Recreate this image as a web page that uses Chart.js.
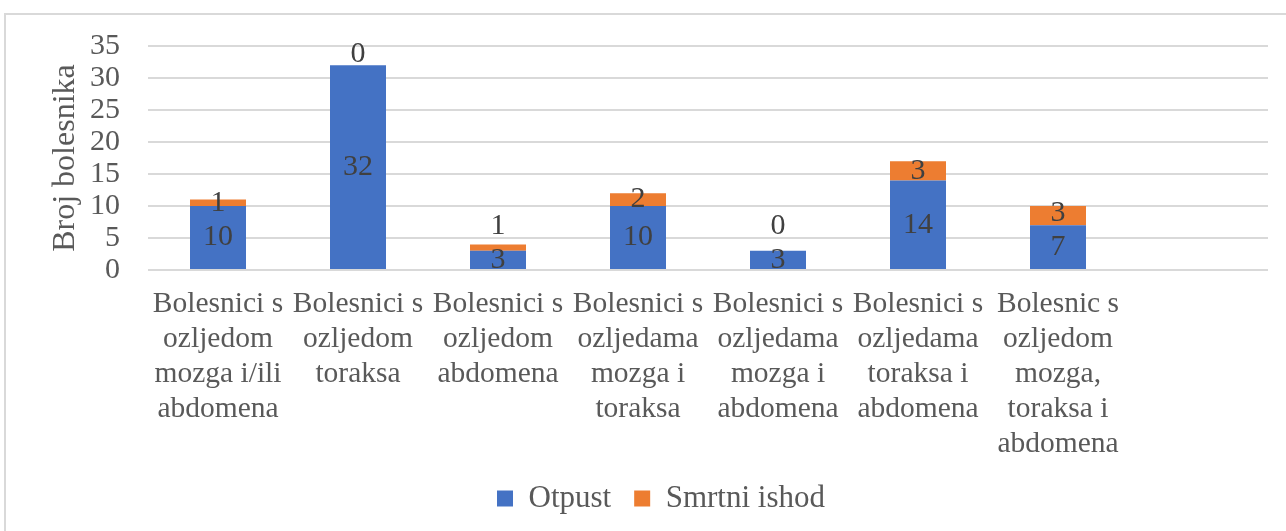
<!DOCTYPE html>
<html>
<head>
<meta charset="utf-8">
<script src="https://cdn.jsdelivr.net/npm/chart.js@4.4.1/dist/chart.umd.min.js"></script>
<style>
  html, body { margin: 0; padding: 0; background: #fff; }
  #frame {
    position: absolute; left: 4px; top: 13px;
    width: 1300px; height: 540px;
    border: 2px solid #d9d9d9; box-sizing: border-box;
  }
  #wrap { position: absolute; left: 0; top: 0; width: 1286px; height: 531px; }
</style>
</head>
<body>
<div id="frame"></div>
<div id="wrap"><canvas id="chart"></canvas></div>
<script>
// Categories (multi-line tick labels) — last slot is empty in the original
const categories = [
    ['Bolesnici s', 'ozljedom', 'mozga i/ili', 'abdomena'],
    ['Bolesnici s', 'ozljedom', 'toraksa'],
    ['Bolesnici s', 'ozljedom', 'abdomena'],
    ['Bolesnici s', 'ozljedama', 'mozga i', 'toraksa'],
    ['Bolesnici s', 'ozljedama', 'mozga i', 'abdomena'],
    ['Bolesnici s', 'ozljedama', 'toraksa i', 'abdomena'],
    ['Bolesnic s', 'ozljedom', 'mozga,', 'toraksa i', 'abdomena'],
    ''
];
const otpust = [10, 32, 3, 10, 3, 14, 7, null];
const smrtniIshod = [1, 0, 1, 2, 0, 3, 3, null];
const seriesNames = ['Otpust', 'Smrtni ishod'];

const FONT = "'Liberation Serif', 'Times New Roman', serif";
const textColor = '#595959';
const gridColor = '#d9d9d9';

// Draw segment values inside the stacked bars, like Excel data labels
const barLabels = {
    id: 'barLabels',
    afterDatasetsDraw(chart) {
        const ctx = chart.ctx;
        ctx.save();
        ctx.font = '30px ' + FONT;
        ctx.fillStyle = '#404040';
        ctx.textAlign = 'center';
        ctx.textBaseline = 'middle';
        const below = {}; // label y of lower segment per index
        chart.data.datasets.forEach((ds, di) => {
            const meta = chart.getDatasetMeta(di);
            meta.data.forEach((bar, i) => {
                const v = ds.data[i];
                if (v === null || v === undefined) return;
                let y = (bar.y + bar.base) / 2;
                if (v === 0) y = Math.min(y, bar.y - 11);
                if (below[i] !== undefined) y = Math.min(y, below[i] - 34);
                ctx.fillText(String(v), bar.x, y);
                below[i] = y;
            });
        });
        ctx.restore();
    }
};

// Excel centres the legend on the whole frame, a bit right of the canvas centre
const legendShift = {
    id: 'legendShift',
    afterLayout(chart) {
        if (!chart.legend) return;
        chart.legend.left += 27;
        chart.legend.right += 27;
    }
};

new Chart(document.getElementById('chart'), {
    type: 'bar',
    data: {
        labels: categories,
        datasets: [
            { label: seriesNames[0], data: otpust, backgroundColor: '#4472c4' },
            { label: seriesNames[1], data: smrtniIshod, backgroundColor: '#ed7d31' }
        ]
    },
    options: {
        responsive: true,
        maintainAspectRatio: false,
        animation: false,
        datasets: { bar: { barPercentage: 0.4, categoryPercentage: 1 } },
        layout: { padding: { left: 0, right: 18, top: 45, bottom: 7 } },
        plugins: {
            tooltip: { enabled: false },
            legend: {
                position: 'bottom',
                labels: {
                    color: textColor,
                    font: { family: FONT, size: 31 },
                    boxWidth: 16,
                    boxHeight: 16,
                    padding: 23
                }
            }
        },
        scales: {
            x: {
                stacked: true,
                grid: { display: false },
                border: { display: false },
                ticks: {
                    color: textColor,
                    font: { family: FONT, size: 29.5, lineHeight: 35 / 29.5 },
                    padding: 9,
                    autoSkip: false,
                    maxRotation: 0,
                    minRotation: 0
                },
                afterFit: (s) => { s.height = 190; }
            },
            y: {
                stacked: true,
                min: 0,
                max: 35,
                grid: { color: gridColor, lineWidth: 2, drawTicks: false },
                border: { display: false },
                ticks: {
                    stepSize: 5,
                    autoSkip: false,
                    color: textColor,
                    font: { family: FONT, size: 30 },
                    padding: 28
                },
                title: {
                    display: true,
                    text: 'Broj bolesnika',
                    color: textColor,
                    font: { family: FONT, size: 32 },
                    padding: { top: 46, bottom: 0 }
                },
                afterFit: (s) => { s.width = 148; }
            }
        }
    },
    plugins: [barLabels, legendShift]
});
</script>
</body>
</html>
